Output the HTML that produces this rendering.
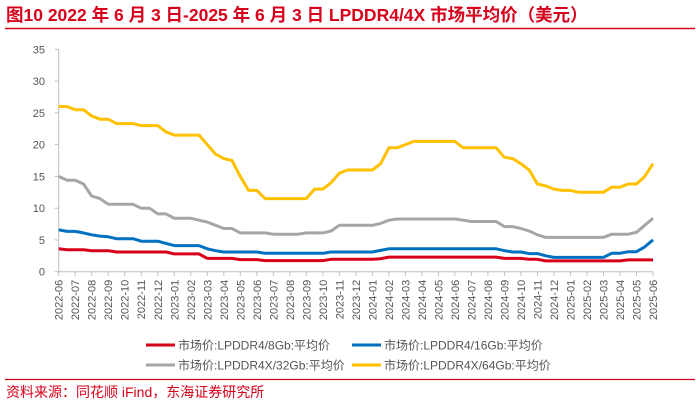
<!DOCTYPE html>
<html><head><meta charset="utf-8"><style>
body{margin:0;width:700px;height:405px;background:#fff;overflow:hidden;font-family:"Liberation Sans","Noto Sans CJK SC",sans-serif;}
svg{display:block}
</style></head><body>
<svg id="chart" width="700" height="405" xmlns="http://www.w3.org/2000/svg">
<text x="6" y="21" font-size="17.5" font-weight="bold" fill="#d7001b" font-family="Liberation Sans,Noto Sans CJK SC,sans-serif">图10  2022 年 6 月 3 日-2025 年 6 月 3 日 LPDDR4/4X 市场平均价（美元）</text>
<line x1="5" y1="28.5" x2="695" y2="28.5" stroke="#d7001b" stroke-width="1.5"/>
<g id="axes"></g>
<g id="series"></g>
<g font-size="12" fill="#555">
<line x1="146" y1="345" x2="175" y2="345" stroke="#d7001b" stroke-width="3"/>
<text x="178" y="349.5">市场价:LPDDR4/8Gb:平均价</text>
<line x1="352" y1="345" x2="381" y2="345" stroke="#0070c0" stroke-width="3"/>
<text x="384" y="349.5">市场价:LPDDR4/16Gb:平均价</text>
<line x1="146" y1="365" x2="175" y2="365" stroke="#a6a6a6" stroke-width="3"/>
<text x="178" y="369.5">市场价:LPDDR4X/32Gb:平均价</text>
<line x1="352" y1="365" x2="381" y2="365" stroke="#ffc000" stroke-width="3"/>
<text x="384" y="369.5">市场价:LPDDR4X/64Gb:平均价</text>
</g>
<line x1="5" y1="379.5" x2="695" y2="379.5" stroke="#d7001b" stroke-width="1.2"/>
<text x="6" y="397" font-size="14" fill="#d7001b">资料来源：同花顺 iFind，东海证券研究所</text>
</svg>
<script>
const months=["2022-06","2022-07","2022-08","2022-09","2022-10","2022-11","2022-12","2023-01","2023-02","2023-03","2023-04","2023-05","2023-06","2023-07","2023-08","2023-09","2023-10","2023-11","2023-12","2024-01","2024-02","2024-03","2024-04","2024-05","2024-06","2024-07","2024-08","2024-09","2024-10","2024-11","2024-12","2025-01","2025-02","2025-03","2025-04","2025-05","2025-06"];
const yTicks=[0,5,10,15,20,25,30,35];
// half-month samples
const s64=[26,26,25.5,25.5,24.5,24,24,23.3,23.3,23.3,23,23,23,22,21.5,21.5,21.5,21.5,20,18.5,17.8,17.5,15,12.8,12.8,11.5,11.5,11.5,11.5,11.5,11.5,13,13,14,15.5,16,16,16,16,17,19.5,19.5,20,20.5,20.5,20.5,20.5,20.5,20.5,19.5,19.5,19.5,19.5,19.5,18,17.8,17,16,13.8,13.5,13,12.8,12.8,12.5,12.5,12.5,12.5,13.3,13.3,13.8,13.8,15,17];
const s32=[15,14.4,14.4,13.8,11.9,11.5,10.6,10.6,10.6,10.6,10,10,9.1,9.1,8.4,8.4,8.4,8.1,7.8,7.3,6.8,6.8,6.1,6.1,6.1,6.1,5.9,5.9,5.9,5.9,6.1,6.1,6.1,6.4,7.3,7.3,7.3,7.3,7.3,7.6,8.1,8.3,8.3,8.3,8.3,8.3,8.3,8.3,8.3,8.1,7.9,7.9,7.9,7.9,7.1,7.1,6.8,6.4,5.8,5.4,5.4,5.4,5.4,5.4,5.4,5.4,5.4,5.9,5.9,5.9,6.2,7.3,8.4];
const s16=[6.6,6.35,6.35,6.1,5.8,5.6,5.5,5.2,5.2,5.2,4.8,4.8,4.8,4.45,4.1,4.1,4.1,4.1,3.6,3.3,3.1,3.1,3.1,3.1,3.1,2.9,2.9,2.9,2.9,2.9,2.9,2.9,2.9,3.1,3.1,3.1,3.1,3.1,3.1,3.35,3.6,3.6,3.6,3.6,3.6,3.6,3.6,3.6,3.6,3.6,3.6,3.6,3.6,3.6,3.3,3.1,3.1,2.85,2.85,2.5,2.25,2.25,2.25,2.25,2.25,2.25,2.25,2.9,2.9,3.15,3.15,3.9,5];
const s8=[3.6,3.45,3.45,3.45,3.3,3.3,3.3,3.1,3.1,3.1,3.1,3.1,3.1,3.1,2.8,2.8,2.8,2.8,2.1,2.1,2.1,2.1,1.9,1.9,1.9,1.75,1.75,1.75,1.75,1.75,1.75,1.75,1.75,1.95,1.95,1.95,1.95,1.95,1.95,2.05,2.3,2.3,2.3,2.3,2.3,2.3,2.3,2.3,2.3,2.3,2.3,2.3,2.3,2.3,2.1,2.1,2.1,1.95,1.95,1.7,1.7,1.7,1.7,1.7,1.7,1.7,1.7,1.7,1.7,1.85,1.85,1.85,1.85];
const NS="http://www.w3.org/2000/svg";
const X0=58.7,X1=653,Y0=271.7,Y35=49.3;
function xm(m){return X0+(X1-X0)*m/36;}
function yv(v){return Y0-(Y0-Y35)*v/35;}
function mk(t,a,p){const e=document.createElementNS(NS,t);for(const k in a)e.setAttribute(k,a[k]);p.appendChild(e);return e;}
const ax=document.getElementById('axes');
let l=mk('line',{x1:X0,y1:Y35,x2:X0,y2:Y0,stroke:'#bfbfbf','stroke-width':1},ax);


l=mk('line',{x1:X0,y1:Y0,x2:X1,y2:Y0,stroke:'#bfbfbf','stroke-width':1},ax);


yTicks.forEach(v=>{
 mk('line',{x1:X0-4,y1:yv(v),x2:X0,y2:yv(v),stroke:'#bfbfbf'},ax);
 const t=mk('text',{x:45,y:yv(v)+4,'text-anchor':'end','font-size':11,fill:'#555'},ax);
 t.textContent=v;
 
 
});
months.forEach((m,i)=>{
 const x=xm(i);
 mk('line',{x1:x,y1:Y0,x2:x,y2:Y0+4,stroke:'#bfbfbf'},ax);
 const t=mk('text',{x:0,y:0,'text-anchor':'end','font-size':11,fill:'#555',transform:`translate(${x+4},${Y0+8}) rotate(-90)`},ax);
 t.textContent=m;
 
 
});
const sg=document.getElementById('series');
[[s8,'#d7001b','series-8gb'],[s16,'#0070c0','series-16gb'],[s32,'#a6a6a6','series-32gb'],[s64,'#ffc000','series-64gb']].forEach(([d,c,n])=>{
 const pts=d.map((v,i)=>xm(i/2).toFixed(1)+','+yv(v).toFixed(1)).join(' ');
 const p=mk('polyline',{points:pts,fill:'none',stroke:c,'stroke-width':3,'stroke-linejoin':'round'},sg);
 
 
});
</script>
</body></html>
